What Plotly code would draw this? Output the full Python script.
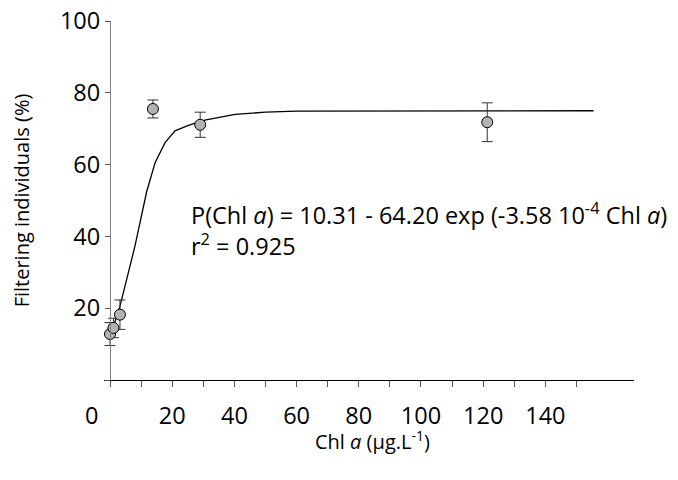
import plotly.graph_objects as go

# Observed data (Chl a in µg/L, filtering individuals in %)
chl = [0, 1.1, 3.2, 13.8, 29.0, 121.3]
filt = [12.8, 14.5, 18.2, 75.5, 71.1, 71.8]
filt_err = [3.2, 2.7, 4.1, 2.5, 3.5, 5.4]

# Fitted curve
curve_x = [0.3, 1.3, 3.2, 5.5, 8.0, 11.8, 14.5, 17.7, 20.9, 25.2, 30.5, 40.2, 50, 60, 155.5]
curve_y = [12.0, 15.5, 20.5, 28.5, 37.2, 52.5, 60.5, 66.1, 69.4, 70.9, 72.4, 74.0, 74.6, 74.9, 75.0]

x_tickvals = list(range(0, 151, 10))
x_ticktext = ["0" + "\u00a0" * 6 if v == 0 else (str(v) if v % 20 == 0 else "") for v in x_tickvals]
y_tickvals = [0, 20, 40, 60, 80, 100]
y_ticktext = ["", "20", "40", "60", "80", "100"]

FONT = "Open Sans"
TICK_SIZE = 23.5
TITLE_SIZE = 20

fig = go.Figure()
fig.add_trace(go.Scatter(
    x=curve_x, y=curve_y, mode="lines",
    line=dict(color="black", width=1.3), showlegend=False, hoverinfo="skip"))
fig.add_trace(go.Scatter(
    x=chl, y=filt, mode="markers",
    marker=dict(size=11, color="#b3b3b3", line=dict(color="black", width=1)),
    error_y=dict(type="data", array=filt_err, visible=True, color="#333333", thickness=1, width=5.5),
    showlegend=False))

fig.add_annotation(x=25.3, y=46.5, xref="x", yref="y", xanchor="left", yanchor="middle",
                   text="P(Chl <i>a</i>) = 10.31 - 64.20 exp (-3.58 10<sup>-4</sup> Chl <i>a</i>)",
                   showarrow=False, font=dict(family=FONT, size=TICK_SIZE, color="black"))
fig.add_annotation(x=25.3, y=37.8, xref="x", yref="y", xanchor="left", yanchor="middle",
                   text="r<sup>2</sup> = 0.925",
                   showarrow=False, font=dict(family=FONT, size=TICK_SIZE, color="black"))
# x-axis title
fig.add_annotation(x=0.506, y=-0.168, xref="paper", yref="paper", xanchor="center", yanchor="middle",
                   text="Chl <i>a</i> (µg.L<sup>-1</sup>)",
                   showarrow=False, font=dict(family=FONT, size=TITLE_SIZE, color="black"))

# page body has an 8px margin; margins below compensate for it
fig.update_layout(
    width=678, height=480,
    margin=dict(l=96, r=52, t=13, b=108, autoexpand=False),
    paper_bgcolor="white", plot_bgcolor="white",
    font=dict(family=FONT, size=TICK_SIZE, color="black"),
    xaxis=dict(range=[-1.93, 168.5], showgrid=False, zeroline=False, automargin=False,
               showline=True, linecolor="black", linewidth=1.2,
               ticks="outside", ticklen=6, tickcolor="#555555", tickwidth=1,
               tickvals=x_tickvals, ticktext=x_ticktext, ticklabelstandoff=9,
               ticklabeloverflow="allow",
               tickfont=dict(size=TICK_SIZE)),
    yaxis=dict(range=[0, 100], showgrid=False, zeroline=False, automargin=False,
               anchor="free", position=6 / 530,
               showline=True, linecolor="#808080", linewidth=1.2,
               ticks="outside", ticklen=5, tickcolor="#555555", tickwidth=1,
               tickvals=y_tickvals, ticktext=y_ticktext,
               ticklabeloverflow="allow",
               tickfont=dict(size=TICK_SIZE),
               title=dict(text="Filtering individuals (%)", font=dict(size=TITLE_SIZE), standoff=36)),
)

fig.write_html("out.html")
